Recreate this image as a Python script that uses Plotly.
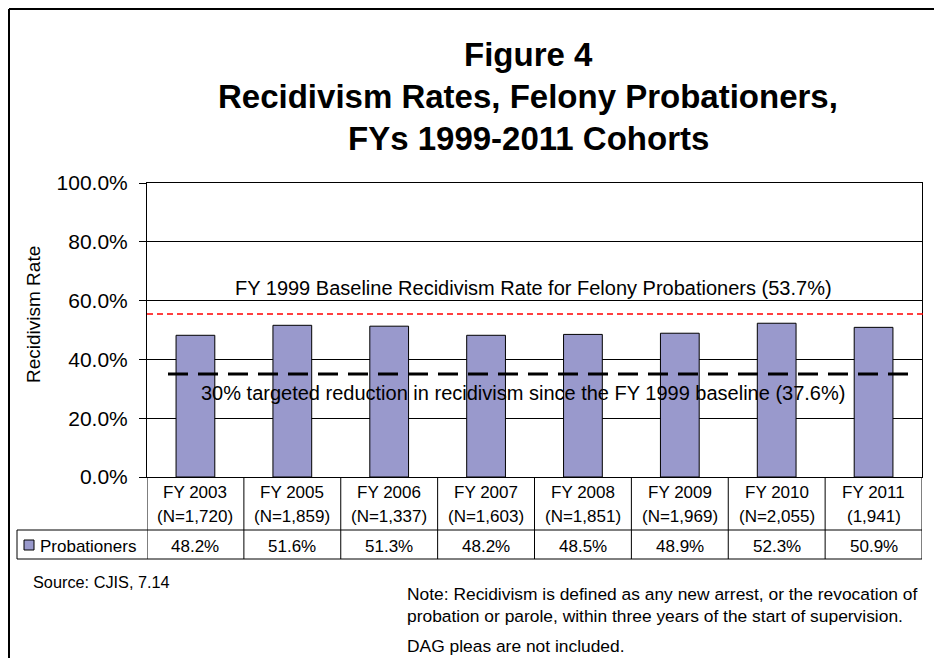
import plotly.graph_objects as go

# ---- data ----
categories = ["FY 2003", "FY 2005", "FY 2006", "FY 2007", "FY 2008", "FY 2009", "FY 2010", "FY 2011"]
cohort_sizes = ["(N=1,720)", "(N=1,859)", "(N=1,337)", "(N=1,603)", "(N=1,851)", "(N=1,969)", "(N=2,055)", "(1,941)"]
probationers = [48.2, 51.6, 51.3, 48.2, 48.5, 48.9, 52.3, 50.9]
baseline_line = 55.4      # drawn position of baseline line
target_line = 35.0        # drawn position of target line
y_ticks = [0, 20, 40, 60, 80, 100]

W, H = 942, 658
OFF = 8  # page body margin
FONT = "Liberation Sans, Arial, sans-serif"


def px(x):
    return (x - OFF) / W


def py(y):
    return 1 - (y - OFF) / H


fig = go.Figure()
fig.add_trace(go.Bar(
    x=categories, y=probationers, name="Probationers",
    marker=dict(color="#9999CC", line=dict(color="black", width=1)),
    width=0.4, showlegend=False,
))

shapes = []
annotations = []

# frame
shapes.append(dict(type="line", xref="paper", yref="paper", x0=px(9), x1=px(9), y0=py(9), y1=py(700),
                   line=dict(color="black", width=2)))
shapes.append(dict(type="line", xref="paper", yref="paper", x0=px(9), x1=px(1000), y0=py(9), y1=py(9),
                   line=dict(color="black", width=2)))

# reference lines
shapes.append(dict(type="line", xref="paper", yref="y", x0=px(147), x1=px(926), y0=baseline_line, y1=baseline_line,
                   line=dict(color="#FF0000", width=1.5, dash="6px,4px")))
shapes.append(dict(type="line", xref="paper", yref="y", x0=px(168), x1=px(918), y0=target_line, y1=target_line,
                   line=dict(color="black", width=3, dash="20px,10px")))

# data table
n = len(categories)
for i in range(n + 1):
    shapes.append(dict(type="line", xref="x", yref="paper", x0=i - 0.5, x1=i - 0.5, y0=py(477), y1=py(559),
                       line=dict(color="black", width=1)))
shapes.append(dict(type="line", xref="paper", yref="paper", x0=px(17), x1=px(17), y0=py(530), y1=py(559),
                   line=dict(color="black", width=1)))
for yy in (530, 559):
    shapes.append(dict(type="line", xref="paper", yref="paper", x0=px(17), x1=px(922), y0=py(yy), y1=py(yy),
                       line=dict(color="black", width=1)))
# legend key
shapes.append(dict(type="rect", xref="paper", yref="paper", x0=px(24), x1=px(34), y0=py(540), y1=py(550),
                   fillcolor="#9999CC", line=dict(color="black", width=1)))
TF = dict(family=FONT, size=17, color="black")
annotations.append(dict(text="Probationers", xref="paper", yref="paper", x=px(38), y=py(546),
                        xanchor="left", yanchor="middle", showarrow=False, font=TF))
for i, (c, nn, v) in enumerate(zip(categories, cohort_sizes, probationers)):
    annotations.append(dict(text=c, xref="x", yref="paper", x=i, y=py(492), showarrow=False,
                            xanchor="center", yanchor="middle", font=TF))
    annotations.append(dict(text=nn, xref="x", yref="paper", x=i, y=py(516), showarrow=False,
                            xanchor="center", yanchor="middle", font=TF))
    annotations.append(dict(text=f"{v:.1f}%", xref="x", yref="paper", x=i, y=py(546), showarrow=False,
                            xanchor="center", yanchor="middle", font=TF))

# titles
for txt, yy in (("Figure 4", 55), ("Recidivism Rates, Felony Probationers,", 97), ("FYs 1999-2011 Cohorts", 138)):
    annotations.append(dict(text=f"<b>{txt}</b>", xref="paper", yref="paper", x=px(528), y=py(yy),
                            xanchor="center", yanchor="middle", showarrow=False,
                            font=dict(family=FONT, size=33, color="black")))

# line labels
annotations.append(dict(text="FY 1999 Baseline Recidivism Rate for Felony Probationers (53.7%)",
                        xref="paper", yref="paper", x=px(533), y=py(288), xanchor="center", yanchor="middle",
                        showarrow=False, font=dict(family=FONT, size=20, color="black")))
annotations.append(dict(text="30% targeted reduction in recidivism since the FY 1999 baseline (37.6%)",
                        xref="paper", yref="paper", x=px(523), y=py(393), xanchor="center", yanchor="middle",
                        showarrow=False, font=dict(family=FONT, size=20, color="black")))

# y axis title
annotations.append(dict(text="Recidivism Rate", xref="paper", yref="paper", x=px(33), y=py(315),
                        xanchor="center", yanchor="middle", textangle=-90, showarrow=False,
                        font=dict(family=FONT, size=19, color="black")))

# footnotes
annotations.append(dict(text="Source: CJIS, 7.14", xref="paper", yref="paper", x=px(31), y=py(582),
                        xanchor="left", yanchor="middle", showarrow=False,
                        font=dict(family=FONT, size=16.3, color="black")))
for txt, yy in (("Note: Recidivism is defined as any new arrest, or the revocation of", 594),
                ("probation or parole, within three years of the start of supervision.", 616),
                ("DAG pleas are not included.", 646)):
    annotations.append(dict(text=txt, xref="paper", yref="paper", x=px(405), y=py(yy),
                            xanchor="left", yanchor="middle", showarrow=False,
                            font=dict(family=FONT, size=17.4, color="black")))

fig.update_layout(
    width=W, height=H,
    margin=dict(l=0, r=0, t=0, b=0, autoexpand=False),
    paper_bgcolor="white", plot_bgcolor="white",
    font=dict(family=FONT, color="black"),
    shapes=shapes, annotations=annotations,
    bargap=0.6,
    xaxis=dict(domain=[px(147), px(922)], showticklabels=False, ticks="", automargin=False,
               showline=True, linecolor="black", linewidth=1, mirror=True, showgrid=False,
               range=[-0.5, n - 0.5]),
    yaxis=dict(domain=[py(477), py(183)], range=[0, 100], tickvals=y_ticks,
               ticktext=[f"{t:.1f}%" for t in y_ticks], automargin=False,
               showline=True, linecolor="black", linewidth=1, mirror=True,
               showgrid=True, gridcolor="black", gridwidth=1, zeroline=False,
               ticks="outside", ticklen=7, tickcolor="black", ticklabelstandoff=7,
               tickfont=dict(family=FONT, size=21, color="black")),
)

fig.write_html("out.html")
